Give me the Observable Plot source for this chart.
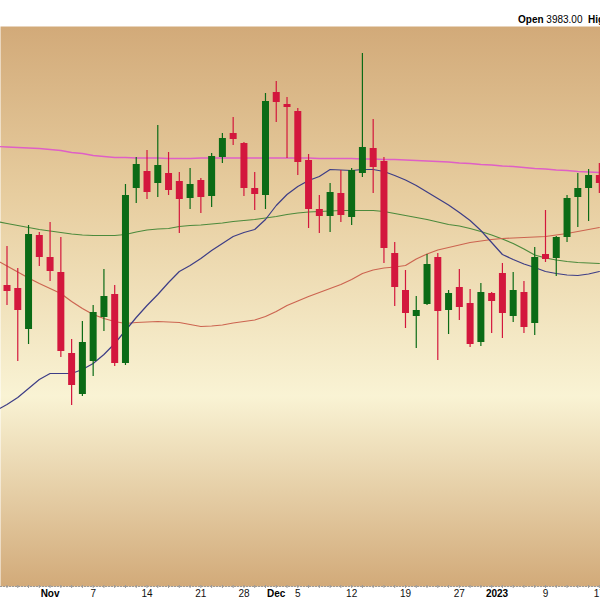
<!DOCTYPE html>
<html><head><meta charset="utf-8">
<script src="https://cdn.jsdelivr.net/npm/d3@7"></script>
<script src="https://cdn.jsdelivr.net/npm/@observablehq/plot@0.6"></script>
<style>
html,body{margin:0;padding:0;background:#fff;width:600px;height:600px;overflow:hidden;}
#hdr{position:absolute;left:518px;top:15px;white-space:nowrap;font:10px "Liberation Sans",Arial,sans-serif;color:#000;line-height:10px;}
#hdr b{font-weight:bold}
#chart{position:absolute;left:0;top:26px;}
</style></head><body>
<div id="hdr"><b>Open</b> 3983.00&nbsp; <b>High</b> 3995.00&nbsp; <b>Low</b> 3965.00&nbsp; <b>Close</b> 3975.00</div>
<div id="chart"></div>
<script>
// trading days: Oct 25 2022 .. Jan 17 2023 (first date only carries moving-average values)
const allDates = ["2022-10-25","2022-10-26","2022-10-27","2022-10-28","2022-10-31",
"2022-11-01","2022-11-02","2022-11-03","2022-11-04","2022-11-07","2022-11-08","2022-11-09","2022-11-10","2022-11-11",
"2022-11-14","2022-11-15","2022-11-16","2022-11-17","2022-11-18","2022-11-21","2022-11-22","2022-11-23","2022-11-25",
"2022-11-28","2022-11-29","2022-11-30","2022-12-01","2022-12-02","2022-12-05","2022-12-06","2022-12-07","2022-12-08",
"2022-12-09","2022-12-12","2022-12-13","2022-12-14","2022-12-15","2022-12-16","2022-12-19","2022-12-20","2022-12-21",
"2022-12-22","2022-12-23","2022-12-27","2022-12-28","2022-12-29","2022-12-30","2023-01-03","2023-01-04","2023-01-05",
"2023-01-06","2023-01-09","2023-01-10","2023-01-11","2023-01-12","2023-01-13","2023-01-17"];

// candles (Oct 26 .. Jan 17)
const open  = [3873,3870,3829,3923,3901,3886,3805,3764,3797,3841,3864,3795,3970,3987,3975,3985,3977,3960,3978,3962,4001,4025,4015,3970,3963,4066,4054,4047,3998,3949,3942,3965,3941,3985,4010,3997,3905,3868,3842,3854,3901,3848,3871,3855,3816,3865,3885,3842,3866,3835,3904,3900,3921,3961,3970,3983];
const high  = [3912,3890,3933,3926,3936,3921,3819,3837,3853,3889,3873,3974,4001,4008,4033,4006,3986,3990,3980,4005,4025,4041,4016,3986,4065,4077,4061,4050,4004,3963,3975,3988,3990,4105,4039,4001,3916,3888,3862,3904,3905,3868,3889,3869,3875,3866,3895,3886,3877,3911,3948,3922,3963,3985,3989,3995];
const low   = [3853,3797,3814,3892,3877,3801,3753,3762,3782,3827,3792,3793,3955,3959,3961,3963,3925,3949,3945,3951,3995,4013,3962,3948,3949,4036,4000,3983,3930,3925,3926,3936,3933,3981,3965,3895,3852,3830,3810,3853,3798,3824,3838,3811,3812,3825,3820,3836,3825,3823,3896,3882,3916,3931,3937,3965];
const close = [3867,3848,3924,3901,3887,3807,3773,3816,3846,3862,3795,3963,3994,3966,3993,3968,3959,3974,3961,4002,4020,4019,3970,3964,4057,4056,4051,3996,3949,3942,3966,3943,3988,4011,3991,3910,3871,3845,3848,3894,3847,3865,3851,3814,3866,3857,3845,3868,3831,3901,3899,3921,3960,3970,3983,3975];

// moving averages (Oct 25 .. Jan 17)
const maPink  = [4012,4011.5,4011,4010.5,4010,4009,4008,4006,4005,4003,4002,4001,4001,4000.5,4000.5,4000.5,4000,4000,4000,
 4000.5,4000.5,4000.5,4000.5,4000.5,4000.5,4000.5,4000.5,4000.5,4000.5,4000.5,4000,4000,4000,4000,3999.5,3999.5,3999,3999,
 3998.5,3998,3997.5,3997,3996.5,3995.5,3995,3994,3993.5,3992.5,3992,3991,3990,3989.5,3988.5,3988,3987,3986.5,3986];
const maGreen = [3937,3935,3933,3931,3929,3927.5,3926,3924.5,3923.5,3923,3923,3923,3924,3926.5,3928.5,3929.5,3930,3932,3933,
 3933.5,3934.5,3935.5,3937,3938,3939,3940.5,3942,3944,3945.5,3946.5,3947,3947.5,3948,3948,3948,3948,3947,3945,3943,3941,3939,
 3936.5,3934,3932.5,3930,3927,3923.5,3919.5,3915,3909.5,3903.5,3900.5,3898.5,3897,3896,3895.5,3895];
const maBlue  = [3748,3754,3761,3770,3779,3785,3785,3785,3789,3795,3804,3815,3828,3841,3853,3864,3876,3887,3893,3900,3908,
 3915,3922,3926,3929,3939,3953,3964,3972,3978,3982,3989,3988.5,3988,3989,3989,3987,3983,3978.5,3973,3966.5,3960,3953.5,3946,
 3938,3928,3916,3904,3899,3894.5,3891,3887,3885,3883.5,3883,3884.5,3887];
const maRed   = [3898.5,3892.5,3886.5,3880.5,3875,3870,3865,3857,3850,3844,3840,3837,3835,3836,3836.5,3837,3836.5,3836,3834,
 3832,3832.5,3833.5,3835.5,3837,3838.5,3842,3847,3853,3857.5,3862,3866,3870,3874,3879,3885,3888.5,3890.5,3891.5,3893,3899.5,
 3904.5,3908.5,3911,3913.5,3916,3917.5,3919,3920,3920.5,3921,3921.5,3922,3923.5,3925,3927,3929,3931];

// x-axis labels
const tickDates = ["2022-11-01","2022-11-07","2022-11-14","2022-11-21","2022-11-28","2022-12-01","2022-12-05","2022-12-12","2022-12-19","2022-12-27","2023-01-01","2023-01-09","2023-01-17"];
const tickText  = ["Nov","7","14","21","28","Dec","5","12","19","27","2023","9","17"];
const tickBold  = [true,false,false,false,false,true,false,false,false,false,true,false,false];

// ---- build tables ----
const idxOf = d => { // index relative to first candle (Oct 26 = 0); non-trading label dates fall between days
  const p = allDates.findIndex(x => x >= d);
  return (allDates[p] === d ? p : p - 0.5) - 1;
};
const candles = open.map((o, k) => ({i: k, date: allDates[k + 1], open: o, high: high[k], low: low[k], close: close[k], up: close[k] >= o}));
const ma = allDates.map((d, p) => ({i: p - 1, pink: maPink[p], green: maGreen[p], blue: maBlue[p], red: maRed[p]}));
const ticks = tickDates.map((d, k) => ({i: idxOf(d), text: tickText[k], bold: tickBold[k]}));

const GREEN = "#0b6b16", RED = "#d3173d";
const col = d => d.up ? GREEN : RED;
const font = "'Liberation Sans', Arial, sans-serif";
const vtick = {draw(ctx) { ctx.moveTo(0, -1.5); ctx.lineTo(0, 1.5); }};

const chart = Plot.plot({
  width: 600, height: 574,
  marginTop: 0, marginBottom: 14, marginLeft: 0, marginRight: 0,
  style: {background: "transparent", fontFamily: font, overflow: "visible"},
  x: {type: "linear", domain: [-0.6035, 55.107], axis: null},
  y: {domain: [3572, 4132], axis: null},
  marks: [
    Plot.frame({fill: "url(#bggrad)", stroke: "none"}),
    Plot.lineY(ma, {x: "i", y: "pink", stroke: "#df5fc6", strokeWidth: 1.3, clip: true}),
    Plot.lineY(ma, {x: "i", y: "green", stroke: "#4c8a3c", strokeWidth: 1.2, clip: true}),
    Plot.lineY(ma, {x: "i", y: "red", stroke: "#cc6450", strokeWidth: 1.2, clip: true}),
    Plot.lineY(ma, {x: "i", y: "blue", stroke: "#3d3d86", strokeWidth: 1.2, clip: true}),
    Plot.ruleX(candles, {x: "i", y1: "low", y2: "high", stroke: col, strokeWidth: 1.2, clip: true}),
    Plot.ruleX(candles, {x: "i", y1: "open", y2: "close", stroke: col, strokeWidth: 7, clip: true}),
    Plot.frame({anchor: "bottom", stroke: "#9a9a9a", strokeDasharray: "1,2"}),
    Plot.dot(candles, {x: "i", frameAnchor: "bottom", symbol: vtick, stroke: "#999", fill: "none", strokeWidth: 1}),
    Plot.text(ticks.filter(d => !d.bold), {x: "i", text: "text", frameAnchor: "bottom", dy: 7, lineAnchor: "middle", fontSize: 10, fill: "#111"}),
    Plot.text(ticks.filter(d => d.bold), {x: "i", text: "text", frameAnchor: "bottom", dy: 7, lineAnchor: "middle", fontSize: 10, fontWeight: "bold", fill: "#000"})
  ]
});

// vertical background gradient for the plot frame
const NS = "http://www.w3.org/2000/svg";
const defs = document.createElementNS(NS, "defs");
const grad = document.createElementNS(NS, "linearGradient");
grad.setAttribute("id", "bggrad");
grad.setAttribute("x1", "0"); grad.setAttribute("y1", "0");
grad.setAttribute("x2", "0"); grad.setAttribute("y2", "1");
[["0", "#d2aa79"], ["0.3", "#e7cd9f"], ["0.66", "#f9f3d4"], ["1", "#d2aa79"]].forEach(([o, c]) => {
  const s = document.createElementNS(NS, "stop");
  s.setAttribute("offset", o); s.setAttribute("stop-color", c);
  grad.appendChild(s);
});
defs.appendChild(grad);
chart.insertBefore(defs, chart.firstChild);
document.getElementById("chart").appendChild(chart);
</script></body></html>
